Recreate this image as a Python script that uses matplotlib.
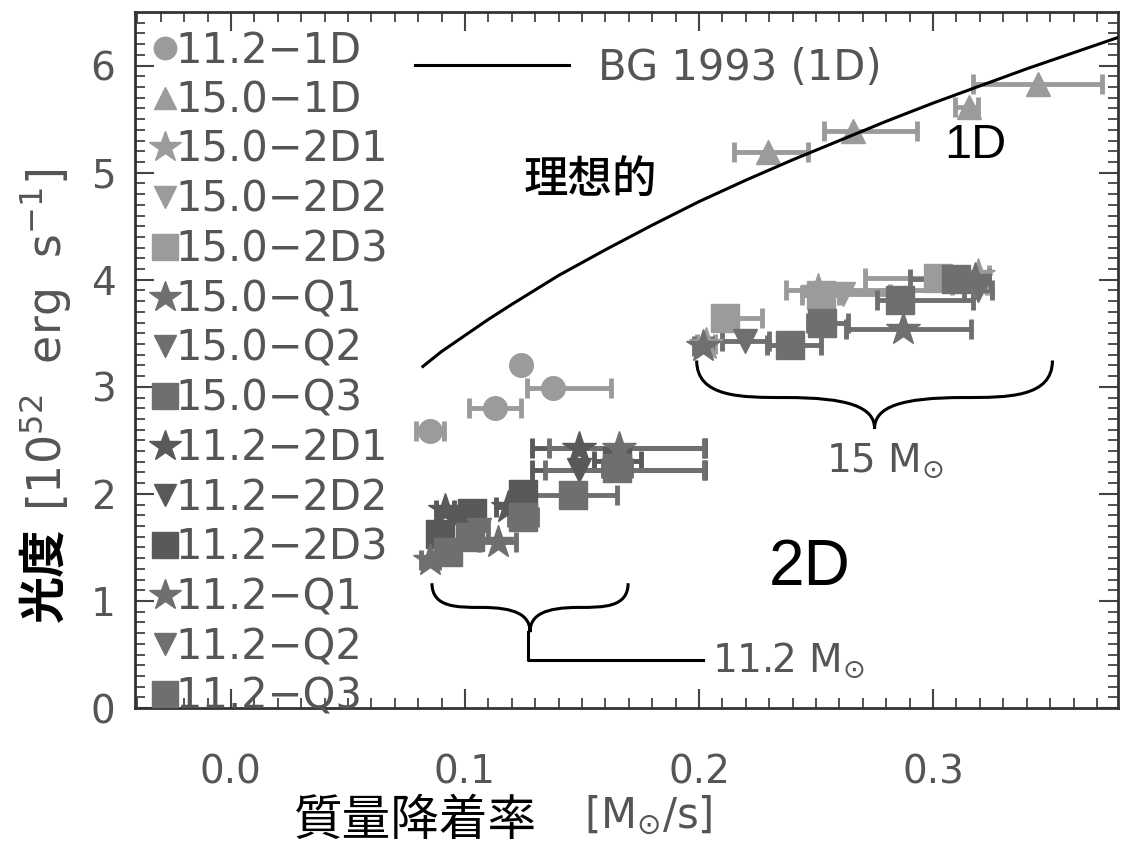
import numpy as np
import matplotlib
matplotlib.use("Agg")
import matplotlib.pyplot as plt
from matplotlib.path import Path
from matplotlib.patches import PathPatch
from matplotlib.lines import Line2D

plt.rcParams['font.family'] = ['DejaVu Sans']
plt.rcParams['mathtext.fontset'] = 'dejavusans'

# BG 1993 (1D) curve
bg_x = [0.082, 0.09, 0.10, 0.11, 0.12, 0.14, 0.16, 0.18, 0.20, 0.22,
        0.24, 0.26, 0.28, 0.30, 0.32, 0.34, 0.36, 0.38]
bg_y = [3.19, 3.33, 3.48, 3.63, 3.77, 4.04, 4.28, 4.51, 4.73, 4.93,
        5.12, 5.30, 5.48, 5.65, 5.81, 5.97, 6.12, 6.27]

# each series: x, y, xerr low, xerr high
labels = ['11.2−1D', '15.0−1D', '15.0−2D1', '15.0−2D2', '15.0−2D3',
          '15.0−Q1', '15.0−Q2', '15.0−Q3', '11.2−2D1', '11.2−2D2',
          '11.2−2D3', '11.2−Q1', '11.2−Q2', '11.2−Q3']

x_112_1d = [0.085, 0.1128, 0.124, 0.1376]
y_112_1d = [2.59, 2.80, 3.20, 2.99]
lo_112_1d = [0.006, 0.011, 0.0, 0.011]
hi_112_1d = [0.006, 0.011, 0.0, 0.025]

x_150_1d = [0.2295, 0.266, 0.3154, 0.345]
y_150_1d = [5.19, 5.39, 5.61, 5.83]
lo_150_1d = [0.0145, 0.0128, 0.006, 0.028]
hi_150_1d = [0.017, 0.027, 0.004, 0.027]

x_150_2d1 = [0.203, 0.251, 0.319]
y_150_2d1 = [3.40, 3.90, 4.04]
lo_150_2d1 = [0.004, 0.014, 0.005]
hi_150_2d1 = [0.004, 0.066, 0.005]

x_150_2d2 = [0.2615, 0.318]
y_150_2d2 = [3.87, 3.95]
lo_150_2d2 = [0.01, 0.01]
hi_150_2d2 = [0.02, 0.005]

x_150_2d3 = [0.211, 0.252, 0.302]
y_150_2d3 = [3.64, 3.86, 4.02]
lo_150_2d3 = [0.005, 0.008, 0.031]
hi_150_2d3 = [0.016, 0.008, 0.018]

x_150_q1 = [0.2017, 0.287, 0.318]
y_150_q1 = [3.38, 3.54, 4.01]
lo_150_q1 = [0.004, 0.024, 0.006]
hi_150_q1 = [0.004, 0.029, 0.006]

x_150_q2 = [0.2197, 0.319]
y_150_q2 = [3.43, 3.90]
lo_150_q2 = [0.01, 0.006]
hi_150_q2 = [0.01, 0.006]

x_150_q3 = [0.239, 0.2526, 0.286, 0.310]
y_150_q3 = [3.39, 3.60, 3.81, 4.01]
lo_150_q3 = [0.01, 0.006, 0.01, 0.02]
hi_150_q3 = [0.013, 0.011, 0.031, 0.01]

x_112_2d1 = [0.0915, 0.1184, 0.1487]
y_112_2d1 = [1.85, 1.875, 2.43]
lo_112_2d1 = [0.004, 0.005, 0.02]
hi_112_2d1 = [0.004, 0.005, 0.054]

x_112_2d2 = [0.098, 0.1487]
y_112_2d2 = [1.75, 2.22]
lo_112_2d2 = [0.004, 0.02]
hi_112_2d2 = [0.004, 0.054]

x_112_2d3 = [0.0893, 0.103, 0.1248, 0.165]
y_112_2d3 = [1.63, 1.82, 2.0, 2.31]
lo_112_2d3 = [0.004, 0.005, 0.005, 0.01]
hi_112_2d3 = [0.004, 0.005, 0.005, 0.01]

x_112_q1 = [0.085, 0.114, 0.166]
y_112_q1 = [1.38, 1.55, 2.43]
lo_112_q1 = [0.004, 0.008, 0.03]
hi_112_q1 = [0.004, 0.008, 0.036]

x_112_q2 = [0.106, 0.164]
y_112_q2 = [1.66, 2.22]
lo_112_q2 = [0.004, 0.03]
hi_112_q2 = [0.004, 0.038]

x_112_q3 = [0.0927, 0.102, 0.1248, 0.146, 0.165]
y_112_q3 = [1.455, 1.60, 1.78, 1.99, 2.24]
lo_112_q3 = [0.004, 0.004, 0.006, 0.016, 0.006]
hi_112_q3 = [0.004, 0.004, 0.006, 0.019, 0.006]

light = '#9b9b9b'
mid = '#6f6f6f'
dark = '#595959'
txtgray = '#555555'

series = [
    (x_112_1d, y_112_1d, lo_112_1d, hi_112_1d, 'o', light, 17),
    (x_150_1d, y_150_1d, lo_150_1d, hi_150_1d, '^', light, 17),
    (x_150_2d1, y_150_2d1, lo_150_2d1, hi_150_2d1, '*', light, 25),
    (x_150_2d2, y_150_2d2, lo_150_2d2, hi_150_2d2, 'v', light, 17),
    (x_150_2d3, y_150_2d3, lo_150_2d3, hi_150_2d3, 's', light, 20),
    (x_150_q1, y_150_q1, lo_150_q1, hi_150_q1, '*', mid, 25),
    (x_150_q2, y_150_q2, lo_150_q2, hi_150_q2, 'v', mid, 17),
    (x_150_q3, y_150_q3, lo_150_q3, hi_150_q3, 's', mid, 20),
    (x_112_2d1, y_112_2d1, lo_112_2d1, hi_112_2d1, '*', dark, 25),
    (x_112_2d2, y_112_2d2, lo_112_2d2, hi_112_2d2, 'v', dark, 17),
    (x_112_2d3, y_112_2d3, lo_112_2d3, hi_112_2d3, 's', dark, 20),
    (x_112_q1, y_112_q1, lo_112_q1, hi_112_q1, '*', mid, 25),
    (x_112_q2, y_112_q2, lo_112_q2, hi_112_q2, 'v', mid, 17),
    (x_112_q3, y_112_q3, lo_112_q3, hi_112_q3, 's', mid, 20),
]

fig = plt.figure(figsize=(11.21, 8.49), dpi=100)
ax = fig.add_axes([0.1204, 0.166, 0.8769, 0.8198])
ax.set_xlim(-0.041, 0.379)
ax.set_ylim(0, 6.5)

handles = []
for (xs, ys, lo, hi, mk, col, ms), lab in zip(series, labels):
    ax.errorbar(xs, ys, xerr=[lo, hi], fmt=mk, color=col, ms=ms, mec=col,
                elinewidth=3.5, capsize=7, capthick=3.5, zorder=3)
    handles.append(Line2D([], [], ls='none', marker=mk, color=col, mec=col,
                          ms=ms * 0.95, label=lab))

bg_line, = ax.plot(bg_x, bg_y, color='black', lw=2.2, zorder=4)


def brace(x0, x1, ytop, ymid, ytip):
    xc = (x0 + x1) / 2
    w = (x1 - x0) / 2
    verts = [(x0, ytop),
             (x0, ymid), (x0 + 0.25 * w, ymid), (x0 + 0.5 * w, ymid),
             (x0 + 0.85 * w, ymid), (xc, ymid - 0.3 * (ymid - ytip)), (xc, ytip),
             (xc, ymid - 0.3 * (ymid - ytip)), (x1 - 0.85 * w, ymid), (x1 - 0.5 * w, ymid),
             (x1 - 0.25 * w, ymid), (x1, ymid), (x1, ytop)]
    codes = [Path.MOVETO] + [Path.CURVE4] * 12
    ax.add_patch(PathPatch(Path(verts, codes), fc='none', ec='black', lw=2.2, zorder=4))


brace(0.0859, 0.1697, 1.166, 0.94, 0.709)
brace(0.199, 0.351, 3.246, 2.90, 2.61)
ax.plot([0.1269, 0.1269, 0.2017], [0.709, 0.448, 0.448], color='black', lw=2.2)

ax.text(0.2056, 0.448, '11.2 M$_{\\odot}$', color=txtgray, fontsize=28,
        ha='left', va='center')
ax.text(0.2795, 2.31, '15 M$_{\\odot}$', color=txtgray, fontsize=28,
        ha='center', va='center')
ax.text(0.1534, 4.93, '理想的', fontsize=32, ha='center', va='center',
        family=['Noto Sans CJK JP', 'DejaVu Sans'], weight='medium')
ax.text(0.318, 5.25, '1D', fontsize=35, ha='center', va='center',
        family=['Liberation Sans'])
ax.text(0.2474, 1.306, '2D', fontsize=46, ha='center', va='center',
        family=['Liberation Sans'])

# legends
leg1 = ax.legend(handles=handles, loc='upper left', bbox_to_anchor=(-0.008, 1.0),
                 frameon=False, fontsize=30, labelspacing=0.185, handletextpad=-0.26,
                 handlelength=1.0, borderpad=0.0, borderaxespad=0.42,
                 labelcolor=txtgray)
ax.add_artist(leg1)
ax.legend([bg_line], ['BG 1993 (1D)'], loc='upper left',
          bbox_to_anchor=(0.285, 0.95), frameon=False, fontsize=30,
          handlelength=3.7, handletextpad=0.7, borderpad=0.0,
          borderaxespad=0.0, labelcolor=txtgray)

# axes style
ax.set_xticks([0.0, 0.1, 0.2, 0.3])
ax.set_xticklabels(['0.0', '0.1', '0.2', '0.3'])
ax.set_xticks(np.arange(-0.04, 0.38, 0.01), minor=True)
ax.set_yticks([0, 1, 2, 3, 4, 5, 6])
ax.set_yticks(np.arange(0, 6.5, 0.1), minor=True)
ax.tick_params(which='both', direction='in', top=True, right=True, color='#444444')
ax.tick_params(which='major', length=14, width=1.5)
ax.tick_params(which='minor', length=7, width=1.3)
ax.tick_params(axis='x', which='major', pad=33, labelsize=28, labelcolor=txtgray)
ax.tick_params(axis='y', which='major', pad=14, labelsize=28, labelcolor=txtgray)
for sp in ax.spines.values():
    sp.set_color('#333333')
    sp.set_linewidth(2)

# axis titles
fig.text(45 / 1121, 1 - 575 / 849, '光度', rotation=90, fontsize=34, weight='bold',
         family=['Noto Sans CJK JP', 'DejaVu Sans'], ha='center', va='center')
fig.text(45 / 1121, 1 - 340 / 849, '[10$^{52}$  erg  s$^{-1}$]', rotation=90,
         fontsize=33, color=txtgray, ha='center', va='center')
fig.text(415 / 1121, 1 - 821 / 849, '質量降着率', fontsize=35,
         family=['Noto Sans CJK JP', 'DejaVu Sans'], ha='center', va='center')
fig.text(648 / 1121, 1 - 815 / 849, '[M$_{\\odot}$/s]', fontsize=30,
         color=txtgray, ha='center', va='center')

fig.savefig('out.png', dpi=100)
